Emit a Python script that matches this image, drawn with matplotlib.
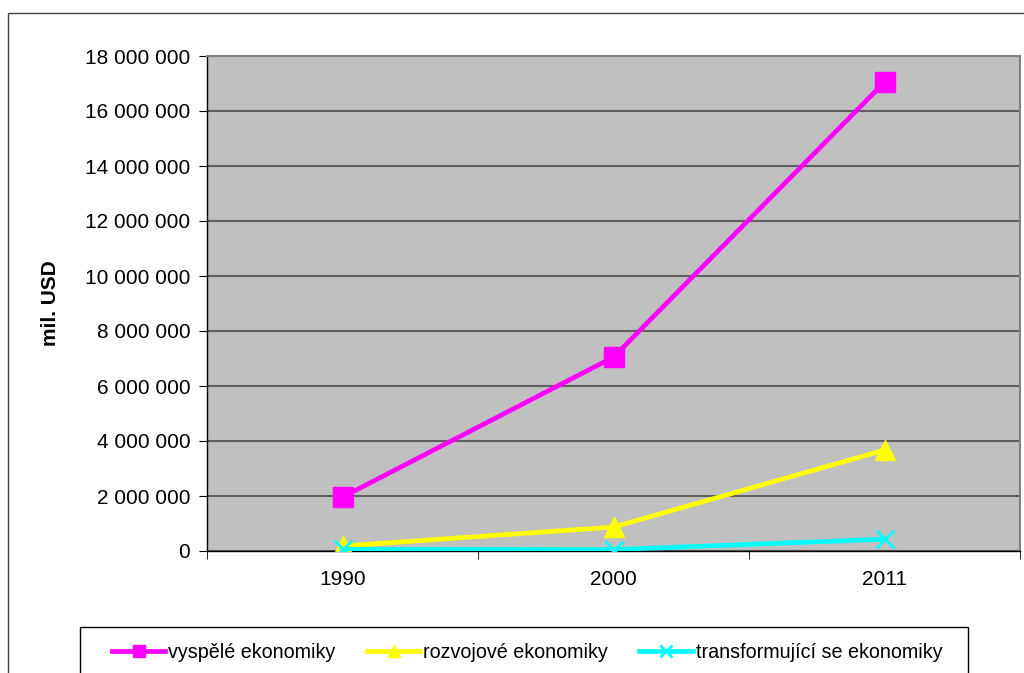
import matplotlib
matplotlib.use("Agg")
import matplotlib.pyplot as plt
from matplotlib.patches import Rectangle
from matplotlib.ticker import FuncFormatter, FixedLocator
from matplotlib.lines import Line2D

plt.rcParams['font.family'] = ['Liberation Sans', 'DejaVu Sans']

years = ["1990", "2000", "2011"]
vyspele = [1960000, 7050000, 17050000]
rozvojove = [180000, 870000, 3670000]
transformujici = [60000, 50000, 430000]
series_names = ["vyspělé ekonomiky", "rozvojové ekonomiky", "transformující se ekonomiky"]
yticks = list(range(0, 18000001, 2000000))

W, H = 1024, 673
fig = plt.figure(figsize=(W / 100, H / 100), dpi=100)

# outer chart border
fig.patches.append(Rectangle((8 / W, -0.1), 1.2, 1 - 13 / H + 0.1, transform=fig.transFigure,
                             fill=False, edgecolor='#404040', linewidth=1.0, clip_on=False))

ax = fig.add_axes([207 / W, 1 - 551 / H, 813 / W, 495 / H])
ax.set_facecolor('#C0C0C0')
x = list(range(len(years)))
fs = 15

ax.plot(x, vyspele, color='#FF00FF', lw=3.4, marker='s', ms=14, mec='#FF00FF', zorder=3)
ax.plot(x, rozvojove, color='#FFFF00', lw=3.4, marker='^', ms=14, mec='#FFFF00', zorder=3)
ax.plot(x, transformujici, color='#00FFFF', lw=3.4, marker='x', ms=13, mew=2, mec='#00FFFF', zorder=3)

ax.set_xlim(-0.5, 2.5)
ax.set_ylim(0, 18000000)
ax.set_yticks(yticks)
ax.yaxis.set_major_formatter(FuncFormatter(lambda v, p: f"{int(v):,}".replace(",", " ")))
ax.grid(axis='y', color='#606060', lw=1.5)
ax.set_axisbelow(True)

ax.set_xticks(x)
ax.set_xticklabels(years)
ax.xaxis.set_minor_locator(FixedLocator([-0.5, 0.5, 1.5, 2.5]))
ax.tick_params(axis='x', which='major', length=0, pad=14, labelsize=fs)
ax.tick_params(axis='x', which='minor', length=6, direction='out', color='black')
ax.tick_params(axis='y', length=6, direction='out', labelsize=fs, pad=6, color='black')

for s in ['left', 'bottom']:
    ax.spines[s].set_color('black')
    ax.spines[s].set_linewidth(1.0)
for s in ['top', 'right']:
    ax.spines[s].set_color('#808080')
    ax.spines[s].set_linewidth(1.5)

ax.set_ylabel("mil. USD", fontsize=fs, fontweight='bold', labelpad=18)

# legend frame
fig.patches.append(Rectangle((80 / W, -0.05), (968 - 80) / W, 0.05 + 1 - 627 / H,
                             transform=fig.transFigure, fill=False, edgecolor='black',
                             linewidth=1.0, clip_on=False))
handles = [
    Line2D([], [], color='#FF00FF', lw=3.4, marker='s', ms=9),
    Line2D([], [], color='#FFFF00', lw=3.4, marker='^', ms=9),
    Line2D([], [], color='#00FFFF', lw=3.4, marker='x', ms=8, mew=2),
]
fig.legend(handles, series_names, loc='center', bbox_to_anchor=(527 / W, 1 - 652 / H),
           ncol=3, frameon=False, fontsize=14.2, handlelength=2.7, handletextpad=0.15,
           columnspacing=1.6, borderpad=0)

fig.savefig("out.png", dpi=100)
